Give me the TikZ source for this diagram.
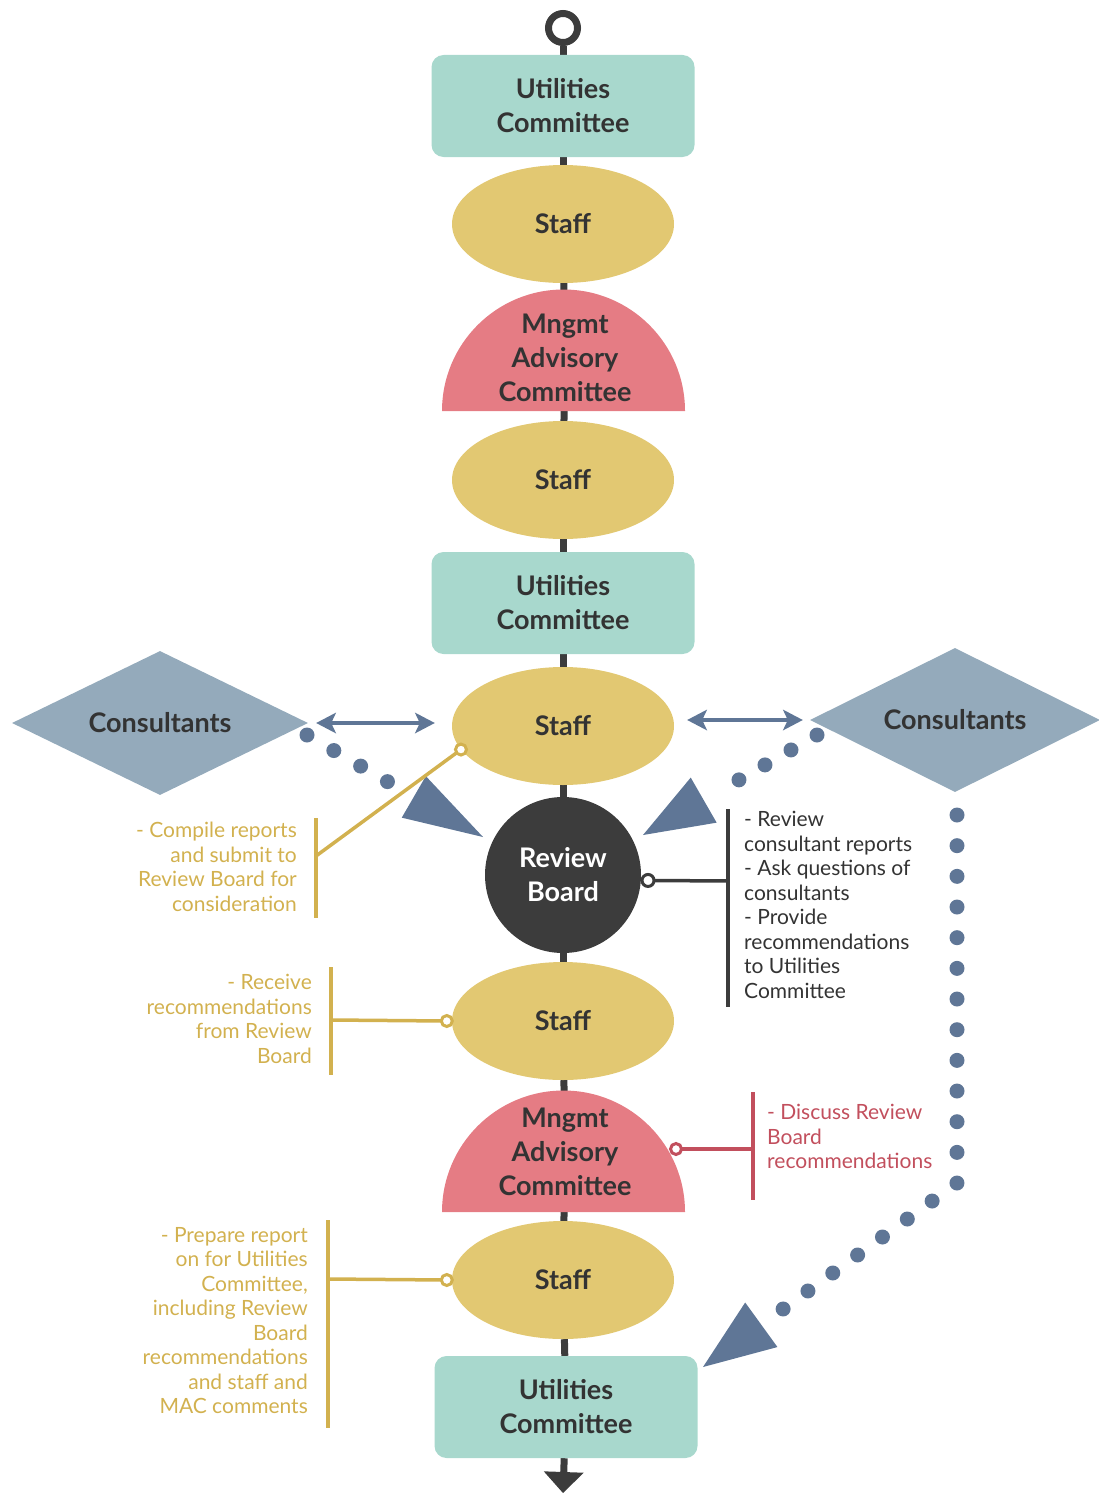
\documentclass[tikz,border=0pt]{standalone}
\usepackage{fontspec}
\setmainfont{Lato}
\usetikzlibrary{shapes.geometric,arrows.meta,backgrounds}

\definecolor{boxteal}{HTML}{A8D8CD}
\definecolor{staffgold}{HTML}{E2C872}
\definecolor{macred}{HTML}{E57C84}
\definecolor{spinegray}{HTML}{3C3C3C}
\definecolor{consblue}{HTML}{94AABB}
\definecolor{flowblue}{HTML}{5F7696}
\definecolor{notegold}{HTML}{D2B14F}
\definecolor{notered}{HTML}{C24F5D}
\definecolor{inkgray}{HTML}{333333}

\newcommand{\diagfont}{\fontsize{27}{34}\selectfont\bfseries}
\newcommand{\annofont}{\fontsize{21}{24.5}\selectfont}

\tikzset{
  every node/.style={inner sep=0pt},
  ucbox/.style={rectangle, rounded corners=12pt, fill=boxteal, minimum width=263pt,
    minimum height=102pt, align=center, font=\diagfont, text=inkgray},
  staff/.style={ellipse, fill=staffgold, minimum width=222pt, minimum height=118pt,
    font=\diagfont, text=inkgray},
  board/.style={circle, fill=spinegray, minimum size=156pt, align=center,
    font=\diagfont, text=white},
  mactext/.style={align=center, font=\diagfont, text=inkgray},
  consult/.style={diamond, aspect=2, fill=consblue, minimum width=296pt, minimum height=144pt,
    font=\diagfont, text=inkgray},
  spine/.style={draw=spinegray, line width=7pt},
  ring/.style={circle, fill=white, line width=3pt, minimum size=11pt},
  pin/.style={line width=3.5pt},
  bar/.style={line width=4pt},
  note/.style={font=\annofont},
  dots/.style={draw=flowblue, line width=15pt, line cap=round},
  both/.style={draw=flowblue, line width=4pt,
    {Stealth[length=20pt,width=21pt,inset=5pt,line width=0pt]}-{Stealth[length=20pt,width=21pt,inset=5pt,line width=0pt]}},
}

\begin{document}
\begin{tikzpicture}[x=1pt,y=-1pt]
\useasboundingbox (0,0) rectangle (1099,1493);

% the main column
\node[ring, draw=spinegray, line width=7pt, minimum size=29pt] (start) at (563,28) {};
\node[ucbox] (uc1) at (563,106) {Utilities\\Committee};
\node[staff] (st1) at (563,224) {Staff};
\fill[macred] (442,411) arc[start angle=180, end angle=360, radius=121.5] -- cycle;
\node[mactext] (mac1) at (565,358) {Mngmt\\Advisory\\Committee};
\node[staff] (st2) at (563,480) {Staff};
\node[ucbox] (uc2) at (563,603) {Utilities\\Committee};
\node[staff] (st3) at (563,726) {Staff};
\node[board] (rb) at (563,875) {Review\\Board};
\node[staff] (st4) at (563,1021) {Staff};
\fill[macred] (442,1212) arc[start angle=180, end angle=360, radius=121.5] -- cycle;
\node[mactext] (mac2) at (565,1152) {Mngmt\\Advisory\\Committee};
\node[staff] (st5) at (563,1280) {Staff};
\node[ucbox] (uc3) at (566,1407) {Utilities\\Committee};
\coordinate (end) at (563,1493);

\begin{scope}[on background layer]
\foreach \a/\b in {start/uc1,uc1/st1,st1/mac1,mac1/st2,st2/uc2,uc2/st3,st3/rb,rb/st4,st4/mac2,mac2/st5,st5/uc3}
  \draw[spine] (\a) -- (\b);
\draw[spine, -{Triangle[length=21pt,width=40pt,line width=0pt]}] (uc3) -- (end);
\end{scope}

% consultants
\node[consult] (consL) at (160,723) {Consultants};
\node[consult, minimum width=290pt] (consR) at (955,720) {Consultants};
\draw[both, shorten <=8pt, shorten >=17pt] (consL.east) -- (consL.east -| st3.west);
\draw[both, shorten <=13pt, shorten >=7pt] (consR.west -| st3.east) -- (consR.west);

\coordinate (dotL) at (307,735);
\coordinate (tipL) at (483,837);
\coordinate (dotR) at (817,735);
\coordinate (tipR) at (643,835);
\coordinate (dotV) at (957,815);
\coordinate (bendV) at (957,1183);
\coordinate (tipV) at (703,1367);
\draw[dots, dash pattern=on 0pt off 31pt on 0pt off 31pt on 0pt off 31pt on 0pt off 400pt,
  -{Triangle[length=80pt,width=48pt,line width=0pt]}] (dotL) -- (tipL);
\draw[dots, dash pattern=on 0pt off 30pt on 0pt off 30pt on 0pt off 30pt on 0pt off 400pt,
  -{Triangle[length=70pt,width=52pt,line width=0pt]}] (dotR) -- (tipR);
\draw[dots, dash pattern=on 0pt off 30.67pt,
  -{Triangle[length=72pt,width=55pt,line width=0pt]}] (dotV) -- (bendV) -- (tipV);

% notes
\node[note, text=notegold, align=right, anchor=north east] (noteA) at (297,822)
  {- Compile reports\\and submit to\\Review Board for\\consideration};
\draw[bar, draw=notegold] (316,818) -- (316,918);
\coordinate (hookA) at (316,856);
\draw[pin, draw=notegold] (st3.193) -- (hookA);
\node[ring, draw=notegold] (ringA) at (st3.193) {};

\node[note, text=notegold, align=right, anchor=north east] (noteB) at (312,974)
  {- Receive\\recommendations\\from Review\\Board};
\draw[bar, draw=notegold] (331,967) -- (331,1075);
\coordinate (hookB) at (331,1020);
\draw[pin, draw=notegold] ([xshift=-5pt]st4.west) -- (hookB);
\node[ring, draw=notegold] (ringB) at ([xshift=-5pt]st4.west) {};

\node[note, text=inkgray, align=left, anchor=north west] (noteC) at (744,811)
  {- Review\\consultant reports\\- Ask questions of\\consultants\\- Provide\\recommendations\\to Utilities\\Committee};
\draw[bar, draw=spinegray] (728,809) -- (728,1007);
\coordinate (hookC) at (728,881);
\draw[pin, draw=spinegray] ([xshift=7pt]rb.-4) -- (hookC);
\node[ring, draw=spinegray, minimum size=12pt] (ringC) at ([xshift=7pt]rb.-4) {};

\node[note, text=notered, align=left, anchor=north west] (noteD) at (767,1104)
  {- Discuss Review\\Board\\recommendations};
\draw[bar, draw=notered] (753,1092) -- (753,1200);
\coordinate (hookD) at (753,1149);
\coordinate (hingeD) at (676,1149);
\draw[pin, draw=notered] (hingeD) -- (hookD);
\node[ring, draw=notered] (ringD) at (hingeD) {};

\node[note, text=notegold, align=right, anchor=north east] (noteE) at (308,1227)
  {- Prepare report\\on for Utilities\\Committee,\\including Review\\Board\\recommendations\\and staff and\\MAC comments};
\draw[bar, draw=notegold] (328,1220) -- (328,1428);
\coordinate (hookE) at (328,1279);
\draw[pin, draw=notegold] ([xshift=-5pt]st5.west) -- (hookE);
\node[ring, draw=notegold] (ringE) at ([xshift=-5pt]st5.west) {};
\end{tikzpicture}
\end{document}
